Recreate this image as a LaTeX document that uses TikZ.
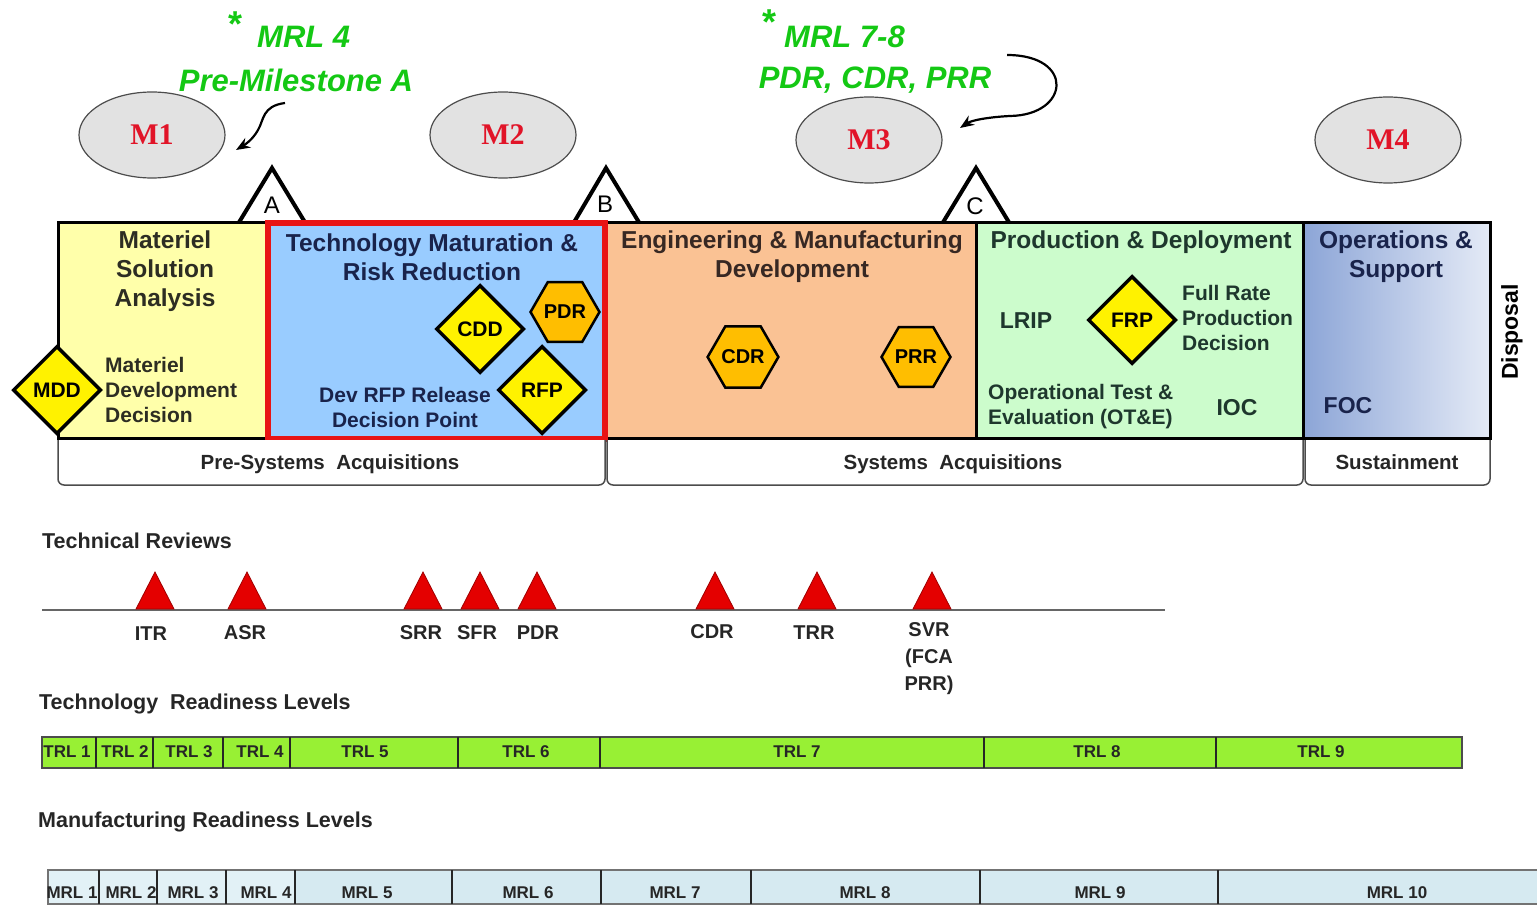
\documentclass[tikz,border=0pt]{standalone}
\usepackage{fontspec}
\setmainfont{Liberation Sans}
\newfontfamily\serifb{Liberation Serif}
\usetikzlibrary{shapes.geometric,arrows.meta}
\definecolor{grn}{RGB}{20,200,20}
\definecolor{mred}{RGB}{225,20,40}
\definecolor{msafill}{RGB}{255,255,170}
\definecolor{tmrrfill}{RGB}{153,204,255}
\definecolor{emdfill}{RGB}{250,194,148}
\definecolor{pdfill}{RGB}{204,252,204}
\definecolor{osleft}{RGB}{140,165,215}
\definecolor{osright}{RGB}{228,234,246}
\definecolor{txtmsa}{RGB}{45,45,35}
\definecolor{txtnavy}{RGB}{25,35,75}
\definecolor{txtemd}{RGB}{55,40,35}
\definecolor{txtpd}{RGB}{30,55,45}
\definecolor{boxred}{RGB}{232,20,20}
\definecolor{hexorange}{RGB}{255,190,0}
\definecolor{revred}{RGB}{228,0,0}
\definecolor{trlgreen}{RGB}{152,240,52}
\definecolor{mrlblue}{RGB}{214,234,241}
\definecolor{mrllight}{RGB}{226,241,246}
\definecolor{ellfill}{RGB}{226,226,226}
\begin{document}
\begin{tikzpicture}[x=1pt,y=-1pt,
  grntxt/.style={text=grn,font=\bfseries\itshape\fontsize{31}{36}\selectfont,inner sep=0},
  startxt/.style={text=grn,font=\bfseries\fontsize{36}{36}\selectfont,inner sep=0},
  mell/.style={ellipse,draw=black!70,line width=1.2,fill=ellfill,minimum width=146,minimum height=86,text=mred,font=\serifb\bfseries\fontsize{30}{30}\selectfont},
  mslet/.style={font=\fontsize{24}{24}\selectfont,inner sep=0},
  mstri/.style={draw=black,line width=4,fill=white,line join=miter},
  phasebox/.style={draw=black,line width=3},
  ptitle/.style={align=center,font=\bfseries\fontsize{24.5}{29}\selectfont,inner sep=0},
  plab/.style={align=left,font=\bfseries\fontsize{21}{25}\selectfont,inner sep=0},
  decdia/.style={diamond,draw=black,line width=3.5,fill=yellow,minimum width=88,minimum height=88,inner sep=0,font=\bfseries\fontsize{21}{21}\selectfont},
  hexa/.style={regular polygon,regular polygon sides=6,draw=black,line width=2.5,fill=hexorange,minimum size=66,inner sep=0,font=\bfseries\fontsize{20}{20}\selectfont},
  barbox/.style={draw=black!70,line width=1.5,fill=white,rounded corners=6},
  barlab/.style={font=\bfseries\fontsize{20.5}{20.5}\selectfont,inner sep=0,text=black!85},
  sechead/.style={anchor=west,font=\bfseries\fontsize{21.5}{21.5}\selectfont,inner sep=0,text=black!85},
  revtri/.style={fill=revred,draw=revred!70!black,line width=0.8},
  revlab/.style={font=\bfseries\fontsize{20}{27}\selectfont,inner sep=0,align=center,text=black!85},
  lvllab/.style={font=\bfseries\fontsize{17}{17}\selectfont,inner sep=0,text=black!85},
  bararrow/.style={-{Stealth[length=14,width=11]},line width=2.2,black}
]
\useasboundingbox (0,0) rectangle (1537,909);

% green annotations
\node[startxt] (star1) at (236,24) {*};
\node[grntxt,anchor=west] (mrl4) at (257,37) {MRL 4};
\node[grntxt] (pma) at (296,80) {Pre-Milestone A};
\node[startxt] (star2) at (769,22) {*};
\node[grntxt,anchor=west] (mrl78) at (784,37) {MRL 7-8};
\node[grntxt] (pcp) at (875,80) {PDR, CDR, PRR};

% milestone ellipses
\node[mell] (M1) at (152,135) {M1};
\node[mell] (M2) at (503,135) {M2};
\node[mell] (M3) at (869,140) {M3};
\node[mell] (M4) at (1388,140) {M4};

% curved arrows
\coordinate (a1s) at (285,103);
\coordinate (a1e) at (236,150);
\draw[bararrow] (a1s) .. controls (262,106) and (264,120) .. (258,130) .. controls (253,139) and (246,144) .. (a1e);
\coordinate (a2s) at (1007,55);
\coordinate (a2e) at (960,128);
\draw[bararrow] (a2s) .. controls (1075,55) and (1070,115) .. (1010,116) .. controls (990,117) and (972,120) .. (a2e);

% milestone triangles
\draw[mstri] (238,224) -- (272,168) -- (306,224);
\draw[mstri] (573,224) -- (606,168) -- (640,224);
\draw[mstri] (942,224) -- (976,168) -- (1010,224);

% phase boxes
\fill[msafill] (58,223) rectangle (268,438);
\fill[tmrrfill] (268,223) rectangle (605,438);
\fill[emdfill] (605,223) rectangle (976,438);
\fill[pdfill] (976,223) rectangle (1303,438);
\shade[left color=osleft,right color=osright] (1303,223) rectangle (1490,438);
\draw[phasebox] (58,223) rectangle (1490,438);
\draw[phasebox] (976,223) -- (976,438);
\draw[phasebox] (1303,223) -- (1303,438);
\draw[draw=boxred,line width=5.5] (268,223) rectangle (605,439);

\node[mslet] (mA) at (272,205) {A};
\node[mslet] (mB) at (605,204) {B};
\node[mslet] (mC) at (975,206) {C};

% bottom bars
\draw[barbox] (58,440) -- (58,485) -- (605,485) -- (605,440);
\draw[barbox] (607,440) -- (607,485) -- (1303,485) -- (1303,440);
\draw[barbox] (1305,440) -- (1305,485) -- (1490,485) -- (1490,440);
\node[barlab] (presys) at (330,464) {Pre-Systems\ \ Acquisitions};
\node[barlab] (sysacq) at (953,464) {Systems\ \ Acquisitions};
\node[barlab] (sust) at (1397,462) {Sustainment};

% phase titles
\node[ptitle,text=txtmsa] (msa) at (165,271) {Materiel\\Solution\\Analysis};
\node[ptitle,text=txtnavy] (tmrr) at (432,257) {Technology Maturation \&\\Risk Reduction};
\node[ptitle,text=txtemd] (emd) at (792,257) {Engineering \& Manufacturing\\Development};
\node[ptitle,text=txtpd] (pd) at (1141,242) {Production \& Deployment};
\node[ptitle,text=txtnavy] (os) at (1396,257) {Operations \&\\Support};
\node[rotate=90,font=\bfseries\fontsize{23}{23}\selectfont,inner sep=0] (disp) at (1512,332) {Disposal};

% decision points
\node[decdia] (MDD) at (57,390) {MDD};
\node[plab,anchor=west,text=txtmsa] (mddlab) at (105,390) {Materiel\\Development\\Decision};
\node[decdia] (CDD) at (480,329) {CDD};
\node[hexa] (PDRh) at (565,312) {PDR};
\node[decdia] (RFP) at (542,390) {RFP};
\node[plab,align=center,text=txtnavy] (rfplab) at (405,407) {Dev RFP Release\\Decision Point};
\node[hexa] (CDRh) at (743,357) {CDR};
\node[hexa] (PRRh) at (916,357) {PRR};
\node[plab,text=txtpd,font=\bfseries\fontsize{23}{23}\selectfont] (lrip) at (1026,321) {LRIP};
\node[decdia] (FRP) at (1132,320) {FRP};
\node[plab,anchor=west,text=txtpd] (frplab) at (1182,318) {Full Rate\\Production\\Decision};
\node[plab,anchor=west,text=txtpd] (ote) at (988,407) {Operational Test \&\\Evaluation (OT\&E)};
\node[plab,text=txtpd,font=\bfseries\fontsize{23}{23}\selectfont] (ioc) at (1237,408) {IOC};
\node[plab,text=txtnavy,font=\bfseries\fontsize{23}{23}\selectfont] (foc) at (1348,406) {FOC};

% technical reviews
\node[sechead] (trhead) at (42,541) {Technical Reviews};
\coordinate (tlS) at (42,610);
\coordinate (tlE) at (1165,610);
\draw[black!60,line width=2] (tlS) -- (tlE);
\foreach \x in {155,247,423,480,537,715,817,932} {
  \filldraw[revtri] (\x-19,609) -- (\x,572) -- (\x+19,609) -- cycle;
}
\node[revlab] (rITR) at (151,634) {ITR};
\node[revlab] (rASR) at (245,633) {ASR};
\node[revlab] (rSRR) at (421,633) {SRR};
\node[revlab] (rSFR) at (477,633) {SFR};
\node[revlab] (rPDR) at (538,633) {PDR};
\node[revlab] (rCDR) at (712,632) {CDR};
\node[revlab] (rTRR) at (814,633) {TRR};
\node[revlab,anchor=north] (rSVR) at (929,622) {SVR\\(FCA\\PRR)};

% TRL
\node[sechead] (trlhead) at (39,704) {Technology\ \ Readiness Levels};
\draw[fill=trlgreen,draw=black!70,line width=1.5] (42,737) rectangle (1462,768);
\foreach \x in {96,153,223,290,458,600,984,1216} {
  \draw[black!85,line width=1.5] (\x,737) -- (\x,768);
}
\foreach \t/\x [count=\i] in {1/67,2/125,3/189,4/260,5/365,6/526,7/797,8/1097,9/1321} {
  \node[lvllab] (trl\i) at (\x,752) {TRL \t};
}

% MRL
\node[sechead] (mrlhead) at (38,822) {Manufacturing Readiness Levels};
\fill[mrllight] (48,870) rectangle (295,904);
\fill[mrlblue] (295,870) rectangle (1537,904);
\draw[black!55,line width=1.5] (1537,870) -- (48,870) -- (48,904) -- (1537,904);
\foreach \x in {99,157,226,295,452,601,751,980,1218} {
  \draw[black!85,line width=1.5] (\x,870) -- (\x,904);
}
\foreach \t/\x [count=\i] in {1/72,2/131,3/193,4/266,5/367,6/528,7/675,8/865,9/1100,10/1397} {
  \node[lvllab] (mrl\i) at (\x,893) {MRL \t};
}
\end{tikzpicture}
\end{document}
